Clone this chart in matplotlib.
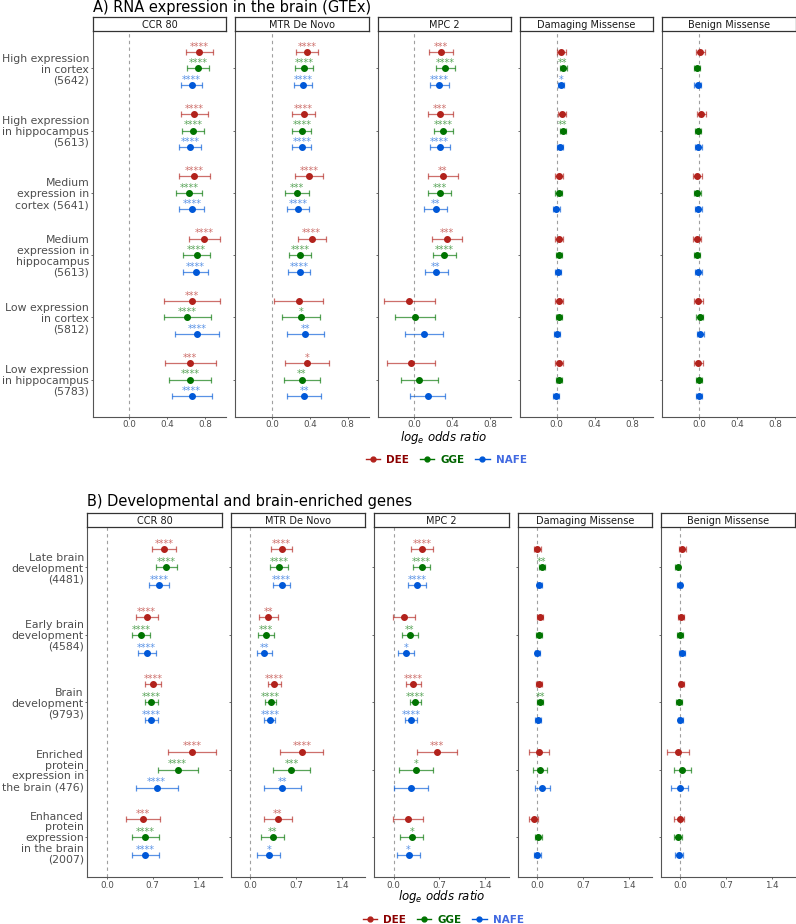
import numpy as np
import matplotlib
matplotlib.use("Agg")
import matplotlib.pyplot as plt
from matplotlib.lines import Line2D

# ---- data: rows are DEE, GGE, NAFE; columns are gene sets ----
groups = ["DEE", "GGE", "NAFE"]
panels = ["CCR 80", "MTR De Novo", "MPC 2", "Damaging Missense", "Benign Missense"]

a_cats = ["High expression\nin cortex\n(5642)",
          "High expression\nin hippocampus\n(5613)",
          "Medium\nexpression in\ncortex (5641)",
          "Medium\nexpression in\nhippocampus\n(5613)",
          "Low expression\nin cortex\n(5812)",
          "Low expression\nin hippocampus\n(5783)"]

a_ccr_or = [[0.735, 0.684, 0.68, 0.784, 0.656, 0.639],
            [0.72, 0.67, 0.625, 0.708, 0.607, 0.639],
            [0.656, 0.642, 0.66, 0.698, 0.711, 0.656]]
a_ccr_lo = [[0.597, 0.548, 0.517, 0.625, 0.36, 0.371],
            [0.61, 0.558, 0.49, 0.569, 0.36, 0.42],
            [0.548, 0.527, 0.527, 0.569, 0.475, 0.444]]
a_ccr_hi = [[0.875, 0.823, 0.85, 0.954, 0.95, 0.909],
            [0.84, 0.79, 0.76, 0.847, 0.854, 0.854],
            [0.767, 0.75, 0.79, 0.83, 0.944, 0.868]]
a_ccr_sig = [["****", "****", "****", "****", "***", "***"],
             ["****", "****", "****", "****", "****", "****"],
             ["****", "****", "****", "****", "****", "****"]]

a_mtr_or = [[0.375, 0.336, 0.392, 0.42, 0.281, 0.368],
            [0.34, 0.316, 0.264, 0.298, 0.305, 0.316],
            [0.326, 0.316, 0.274, 0.292, 0.35, 0.34]]
a_mtr_lo = [[0.256, 0.215, 0.243, 0.277, 0.024, 0.139],
            [0.246, 0.215, 0.142, 0.184, 0.104, 0.132],
            [0.229, 0.215, 0.156, 0.173, 0.156, 0.16]]
a_mtr_hi = [[0.49, 0.455, 0.54, 0.566, 0.54, 0.6],
            [0.438, 0.417, 0.389, 0.413, 0.505, 0.505],
            [0.423, 0.413, 0.396, 0.402, 0.545, 0.52]]
a_mtr_sig = [["****", "****", "****", "****", "", "*"],
             ["****", "****", "***", "****", "*", "**"],
             ["****", "****", "****", "****", "**", "**"]]

a_mpc_or = [[0.281, 0.271, 0.299, 0.34, -0.052, -0.035],
            [0.326, 0.306, 0.271, 0.313, 0.01, 0.052],
            [0.264, 0.267, 0.226, 0.229, 0.101, 0.142]]
a_mpc_lo = [[0.156, 0.142, 0.142, 0.184, -0.323, -0.285],
            [0.226, 0.205, 0.146, 0.194, -0.201, -0.139],
            [0.163, 0.163, 0.101, 0.111, -0.097, -0.045]]
a_mpc_hi = [[0.413, 0.406, 0.458, 0.5, 0.215, 0.215],
            [0.427, 0.406, 0.392, 0.438, 0.222, 0.25],
            [0.365, 0.372, 0.347, 0.351, 0.299, 0.326]]
a_mpc_sig = [["***", "***", "**", "***", "", ""],
             ["****", "****", "***", "****", "", ""],
             ["****", "****", "**", "**", "", ""]]

a_dam_or = [[0.049, 0.052, 0.024, 0.021, 0.028, 0.024],
            [0.066, 0.066, 0.021, 0.024, 0.028, 0.024],
            [0.045, 0.035, -0.003, 0.014, 0.003, -0.007]]
a_dam_lo = [[0.007, 0.01, -0.014, -0.017, -0.014, -0.017],
            [0.031, 0.031, -0.014, -0.007, -0.003, -0.007],
            [0.014, 0.003, -0.035, -0.021, -0.028, -0.042]]
a_dam_hi = [[0.097, 0.1, 0.069, 0.063, 0.069, 0.069],
            [0.104, 0.1, 0.052, 0.059, 0.059, 0.059],
            [0.08, 0.069, 0.031, 0.049, 0.038, 0.028]]
a_dam_sig = [["", "", "", "", "", ""],
             ["**", "**", "", "", "", ""],
             ["*", "", "", "", "", ""]]

a_ben_or = [[0.014, 0.021, -0.017, -0.024, -0.01, -0.007],
            [-0.024, -0.014, -0.017, -0.021, 0.007, 0.0],
            [-0.014, -0.01, -0.01, -0.007, 0.01, 0.0]]
a_ben_lo = [[-0.031, -0.024, -0.063, -0.066, -0.056, -0.052],
            [-0.056, -0.045, -0.052, -0.052, -0.028, -0.035],
            [-0.049, -0.045, -0.045, -0.042, -0.024, -0.035]]
a_ben_hi = [[0.063, 0.069, 0.028, 0.017, 0.038, 0.038],
            [0.01, 0.021, 0.017, 0.014, 0.045, 0.035],
            [0.021, 0.031, 0.028, 0.028, 0.049, 0.035]]
a_ben_sig = [[""] * 6, [""] * 6, [""] * 6]

b_cats = ["Late brain\ndevelopment\n(4481)",
          "Early brain\ndevelopment\n(4584)",
          "Brain\ndevelopment\n(9793)",
          "Enriched\nprotein\nexpression in\nthe brain (476)",
          "Enhanced\nprotein\nexpression\nin the brain\n(2007)"]

b_ccr_or = [[0.871, 0.609, 0.71, 1.299, 0.549],
            [0.901, 0.519, 0.675, 1.083, 0.584],
            [0.796, 0.609, 0.68, 0.76, 0.584]]
b_ccr_lo = [[0.69, 0.443, 0.589, 0.942, 0.287],
            [0.745, 0.383, 0.579, 0.775, 0.388],
            [0.639, 0.473, 0.584, 0.438, 0.388]]
b_ccr_hi = [[1.057, 0.78, 0.826, 1.662, 0.81],
            [1.067, 0.66, 0.775, 1.4, 0.79],
            [0.952, 0.75, 0.775, 1.083, 0.79]]
b_ccr_sig = [["****", "****", "****", "****", "***"],
             ["****", "****", "****", "****", "****"],
             ["****", "****", "****", "****", "****"]]

b_mtr_or = [[0.478, 0.277, 0.368, 0.79, 0.423],
            [0.443, 0.242, 0.312, 0.629, 0.342],
            [0.478, 0.217, 0.302, 0.488, 0.282]]
b_mtr_lo = [[0.317, 0.136, 0.267, 0.453, 0.206],
            [0.302, 0.121, 0.227, 0.352, 0.166],
            [0.347, 0.106, 0.217, 0.206, 0.106]]
b_mtr_hi = [[0.639, 0.423, 0.468, 1.118, 0.644],
            [0.579, 0.363, 0.398, 0.906, 0.519],
            [0.609, 0.337, 0.383, 0.77, 0.453]]
b_mtr_sig = [["****", "**", "****", "****", "**"],
             ["****", "***", "****", "***", "**"],
             ["****", "**", "****", "**", "*"]]

b_mpc_or = [[0.433, 0.156, 0.297, 0.66, 0.222],
            [0.428, 0.247, 0.327, 0.342, 0.277],
            [0.357, 0.191, 0.267, 0.267, 0.227]]
b_mpc_lo = [[0.267, -0.005, 0.191, 0.352, -0.01],
            [0.297, 0.126, 0.247, 0.08, 0.1],
            [0.222, 0.07, 0.176, 0.005, 0.05]]
b_mpc_hi = [[0.599, 0.322, 0.418, 0.967, 0.453],
            [0.559, 0.373, 0.418, 0.604, 0.453],
            [0.488, 0.312, 0.357, 0.529, 0.403]]
b_mpc_sig = [["****", "", "****", "***", ""],
             ["****", "**", "****", "*", "*"],
             ["****", "*", "****", "", "*"]]

b_dam_or = [[0.005, 0.04, 0.03, 0.03, -0.05],
            [0.075, 0.03, 0.045, 0.04, 0.02],
            [0.035, 0.005, 0.015, 0.081, 0.0]]
b_dam_lo = [[-0.04, -0.005, -0.01, -0.121, -0.121],
            [0.035, -0.01, 0.005, -0.07, -0.03],
            [-0.005, -0.035, -0.025, -0.03, -0.045]]
b_dam_hi = [[0.055, 0.086, 0.07, 0.186, 0.02],
            [0.116, 0.07, 0.086, 0.151, 0.075],
            [0.075, 0.045, 0.055, 0.191, 0.055]]
b_dam_sig = [["", "", "", "", ""],
             ["**", "", "**", "", ""],
             ["", "", "", "", ""]]

b_ben_or = [[0.03, 0.01, 0.015, -0.035, -0.015],
            [-0.04, -0.005, -0.02, 0.025, -0.035],
            [-0.015, 0.02, 0.0, -0.015, -0.025]]
b_ben_lo = [[-0.02, -0.04, -0.03, -0.206, -0.1],
            [-0.081, -0.05, -0.065, -0.106, -0.096],
            [-0.06, -0.025, -0.045, -0.141, -0.081]]
b_ben_hi = [[0.081, 0.06, 0.06, 0.136, 0.06],
            [0.0, 0.04, 0.025, 0.156, 0.03],
            [0.03, 0.065, 0.045, 0.111, 0.04]]
b_ben_sig = [[""] * 5, [""] * 5, [""] * 5]

a_ticks = [0.0, 0.4, 0.8]
b_ticks = [0.0, 0.7, 1.4]

point_cols = ["#B2221C", "#007400", "#0058D8"]
label_cols = ["#8B0000", "#006400", "#4169E1"]

W, H = 796, 924
fig = plt.figure(figsize=(W / 100, H / 100), dpi=100)


def px_axes(left, top, width, height):
    return fig.add_axes([left / W, 1 - (top + height) / H, width / W, height / H])


def draw_section(title, cats, data, ticks, left0, step, width, top, height, title_y, xlab_y, leg_y):
    n = len(cats)
    ypos = np.arange(1, n + 1)
    allv = np.concatenate([np.ravel(d[1]) for d in data] + [np.ravel(d[2]) for d in data])
    span = allv.max() - allv.min()
    xlim = (allv.min() - 0.05 * span, allv.max() + 0.05 * span)
    offs = [-0.267, 0.0, 0.267]

    for i, (name, (est, lo, hi, sig)) in enumerate(zip(panels, data)):
        left = left0 + i * step
        ax = px_axes(left, top, width, height)
        ax.set_xlim(xlim)
        ax.set_ylim(n + 0.6, 0.4)
        ax.axvline(0, color="#A0A0A0", ls=(0, (3, 3)), lw=0.8, zorder=0)
        for g in range(3):
            x = np.array(est[g])
            y = ypos + offs[g]
            ax.errorbar(x, y, xerr=[x - np.array(lo[g]), np.array(hi[g]) - x], fmt="none",
                        ecolor=point_cols[g], alpha=0.65, capsize=2, elinewidth=0.9, capthick=0.9)
            ax.plot(x, y, "o", color=point_cols[g], ms=4, zorder=3)
            for xi, yi, s in zip(x, y, sig[g]):
                if s:
                    ax.annotate(s, (xi, yi), xytext=(0, 1.6), textcoords="offset points",
                                ha="center", va="baseline", fontsize=7,
                                color=point_cols[g], alpha=0.65)
        for sp in ["top", "right"]:
            ax.spines[sp].set_visible(False)
        for sp in ["left", "bottom"]:
            ax.spines[sp].set_color("#555555")
            ax.spines[sp].set_linewidth(0.8)
        ax.set_xticks(ticks)
        ax.set_xticklabels([f"{t:.1f}" for t in ticks], fontsize=6.3, color="#4D4D4D")
        ax.set_yticks(ypos)
        if i == 0:
            ax.set_yticklabels(cats, fontsize=7.8, color="#4D4D4D", linespacing=1.1)
        else:
            ax.set_yticklabels([])
        ax.tick_params(length=1.5, color="#555555", width=0.6, pad=1)

        st = px_axes(left, top - 14, width, 14)
        st.set_xticks([])
        st.set_yticks([])
        for sp in st.spines.values():
            sp.set_color("#333333")
            sp.set_linewidth(0.9)
        st.text(0.5, 0.45, name, ha="center", va="center", fontsize=7, color="#1A1A1A",
                transform=st.transAxes)

    fig.text(left0 / W, 1 - title_y / H, title, fontsize=10.5, va="baseline", ha="left")
    cx = (left0 + 4 * step + width + left0) / 2
    fig.text(cx / W, 1 - xlab_y / H, r"$log_e$ odds ratio", fontsize=8.5, style="italic",
             ha="center", va="baseline")
    handles = [Line2D([0], [0], color=c, marker="o", ms=3.5, lw=1) for c in point_cols]
    fig.legend(handles, groups, loc="center", bbox_to_anchor=((cx + 2) / W, 1 - leg_y / H),
               ncol=3, frameon=False, labelcolor=label_cols,
               prop={"weight": "bold", "size": 7.5}, handlelength=1.4,
               handletextpad=0.6, columnspacing=1.0)


a_data = [(a_ccr_or, a_ccr_lo, a_ccr_hi, a_ccr_sig),
          (a_mtr_or, a_mtr_lo, a_mtr_hi, a_mtr_sig),
          (a_mpc_or, a_mpc_lo, a_mpc_hi, a_mpc_sig),
          (a_dam_or, a_dam_lo, a_dam_hi, a_dam_sig),
          (a_ben_or, a_ben_lo, a_ben_hi, a_ben_sig)]
b_data = [(b_ccr_or, b_ccr_lo, b_ccr_hi, b_ccr_sig),
          (b_mtr_or, b_mtr_lo, b_mtr_hi, b_mtr_sig),
          (b_mpc_or, b_mpc_lo, b_mpc_hi, b_mpc_sig),
          (b_dam_or, b_dam_lo, b_dam_hi, b_dam_sig),
          (b_ben_or, b_ben_lo, b_ben_hi, b_ben_sig)]

draw_section("A) RNA expression in the brain (GTEx)", a_cats, a_data, a_ticks,
             92.7, 142.4, 133.4, 31, 386, 12, 441, 460)
draw_section("B) Developmental and brain-enriched genes", b_cats, b_data, b_ticks,
             87.3, 143.4, 134.4, 527, 350.3, 506, 900, 920)

fig.savefig("out.png", dpi=100)
